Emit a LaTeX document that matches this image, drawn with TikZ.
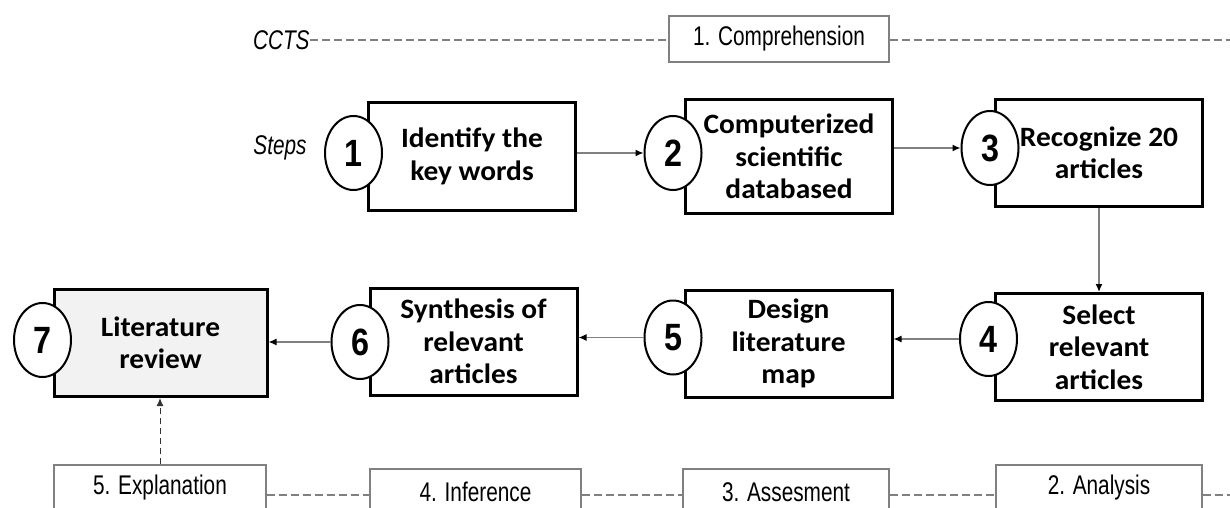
\documentclass[tikz,border=0pt]{standalone}
\usepackage{fontspec}
\setmainfont{Liberation Sans}
\newfontfamily\boxfont{Carlito}[FakeStretch=1.05]
\newfontfamily\narrowfont{Liberation Sans}[FakeStretch=0.77]
\newfontfamily\numfont{Liberation Sans}[FakeStretch=0.85]
\usetikzlibrary{arrows.meta,shapes.geometric}
\definecolor{linegray}{HTML}{808080}
\definecolor{reviewfill}{HTML}{F2F2F2}
\tikzstyle{stepbox}=[rectangle, draw=black, line width=1.5pt, fill=white, minimum width=103.5pt, minimum height=53.5pt, inner sep=2pt, align=center, font=\boxfont\bfseries\fontsize{14}{16.25}\selectfont]
\tikzstyle{stepnum}=[ellipse, draw=black, line width=1pt, fill=white, minimum width=28.5pt, minimum height=37pt, inner sep=0pt, font=\numfont\bfseries\fontsize{19}{19}\selectfont]
\tikzstyle{skill}=[rectangle, draw=linegray, line width=0.6pt, fill=white, minimum height=23pt, inner sep=2pt, font=\narrowfont\fontsize{13.5}{15}\selectfont]
\tikzstyle{lbl}=[inner sep=0pt, anchor=east, font=\narrowfont\itshape\fontsize{13.5}{15}\selectfont]
\tikzstyle{flow}=[draw=linegray, line width=0.7pt, -{Latex[length=4pt,width=3.5pt,color=black]}]
\tikzstyle{ccline}=[draw=linegray, line width=0.7pt, dash pattern=on 4pt off 2pt]
\tikzstyle{upflow}=[draw=black!80, line width=0.5pt, dash pattern=on 3pt off 2pt, -{Latex[length=4pt,width=3.5pt]}]
\newcommand{\stepbox}{\node[stepbox]}
\newcommand{\stepnum}{\node[stepnum]}
\newcommand{\skill}{\node[skill]}

\begin{document}
\begin{tikzpicture}[x=0.5pt, y=-0.5pt, every edge/.style={ draw } ]
\useasboundingbox (0,0) rectangle (1230,508);
\clip (0,0) rectangle (1230,508);
\node[lbl] (ccts) at (310,40) {CCTS};
\node[lbl] (steps) at (307,148) {Steps};
\stepbox (b1) at (472,156.5) {Identify the\\key words};
\stepbox (b2) at (789,156.5) [minimum height=56.5pt] {Computerized\\scientific\\databased};
\stepbox (b3) at (1099,153) {Recognize 20\\articles};
\stepbox (b4) at (1099,347) {Select\\relevant\\articles};
\stepbox (b5) at (788.5,343.5) {Design\\literature\\map};
\stepbox (b6) at (473.5,341.5) {Synthesis of\\relevant\\articles};
\stepbox (b7) at (160.5,343) [minimum width=106.5pt, fill=reviewfill] {Literature\\review};
\stepnum (c1) at (353.5,153) {1};
\stepnum (c2) at (673,153) {2};
\stepnum (c3) at (990,148) {3};
\stepnum (c4) at (988.5,339) {4};
\stepnum (c5) at (673,337.5) {5};
\stepnum (c6) at (360,342) {6};
\stepnum (c7) at (42.5,340) {7};
\skill (s1) at (779,39) [minimum width=110pt] {1. Comprehension};
\skill (s2) at (1099,488) [minimum width=103pt] {2. Analysis};
\skill (s3) at (786,492) [minimum width=103pt] {3. Assesment};
\skill (s4) at (475.5,492) [minimum width=105.5pt] {4. Inference};
\skill (s5) at (160,488) [minimum width=106pt] {5. Explanation};
\coordinate (topend) at (1230,40);
\coordinate (base) at (0,495);
\coordinate (baseend) at (1230,495);
\path
(ccts.east) edge[ccline] (ccts.east -| s1.west)
(s1.east |- topend) edge[ccline] (topend)
(s5.east |- base) edge[ccline] (s4.west |- base)
(s4.east |- base) edge[ccline] (s3.west |- base)
(s3.east |- base) edge[ccline] (s2.west |- base)
(s2.east |- base) edge[ccline] (baseend)
;
\path
(b1.east |- c2) edge[flow] (c2.west)
(b2.east |- c3) edge[flow] (c3.west)
(b3) edge[flow] (b4)
(c4.west) edge[flow] (c4.west -| b5.east)
(c5.west) edge[flow] (c5.west -| b6.east)
(c6.west) edge[flow] (c6.west -| b7.east)
(s5.north) edge[upflow] (s5.north |- b7.south)
;
\end{tikzpicture}
\end{document}
